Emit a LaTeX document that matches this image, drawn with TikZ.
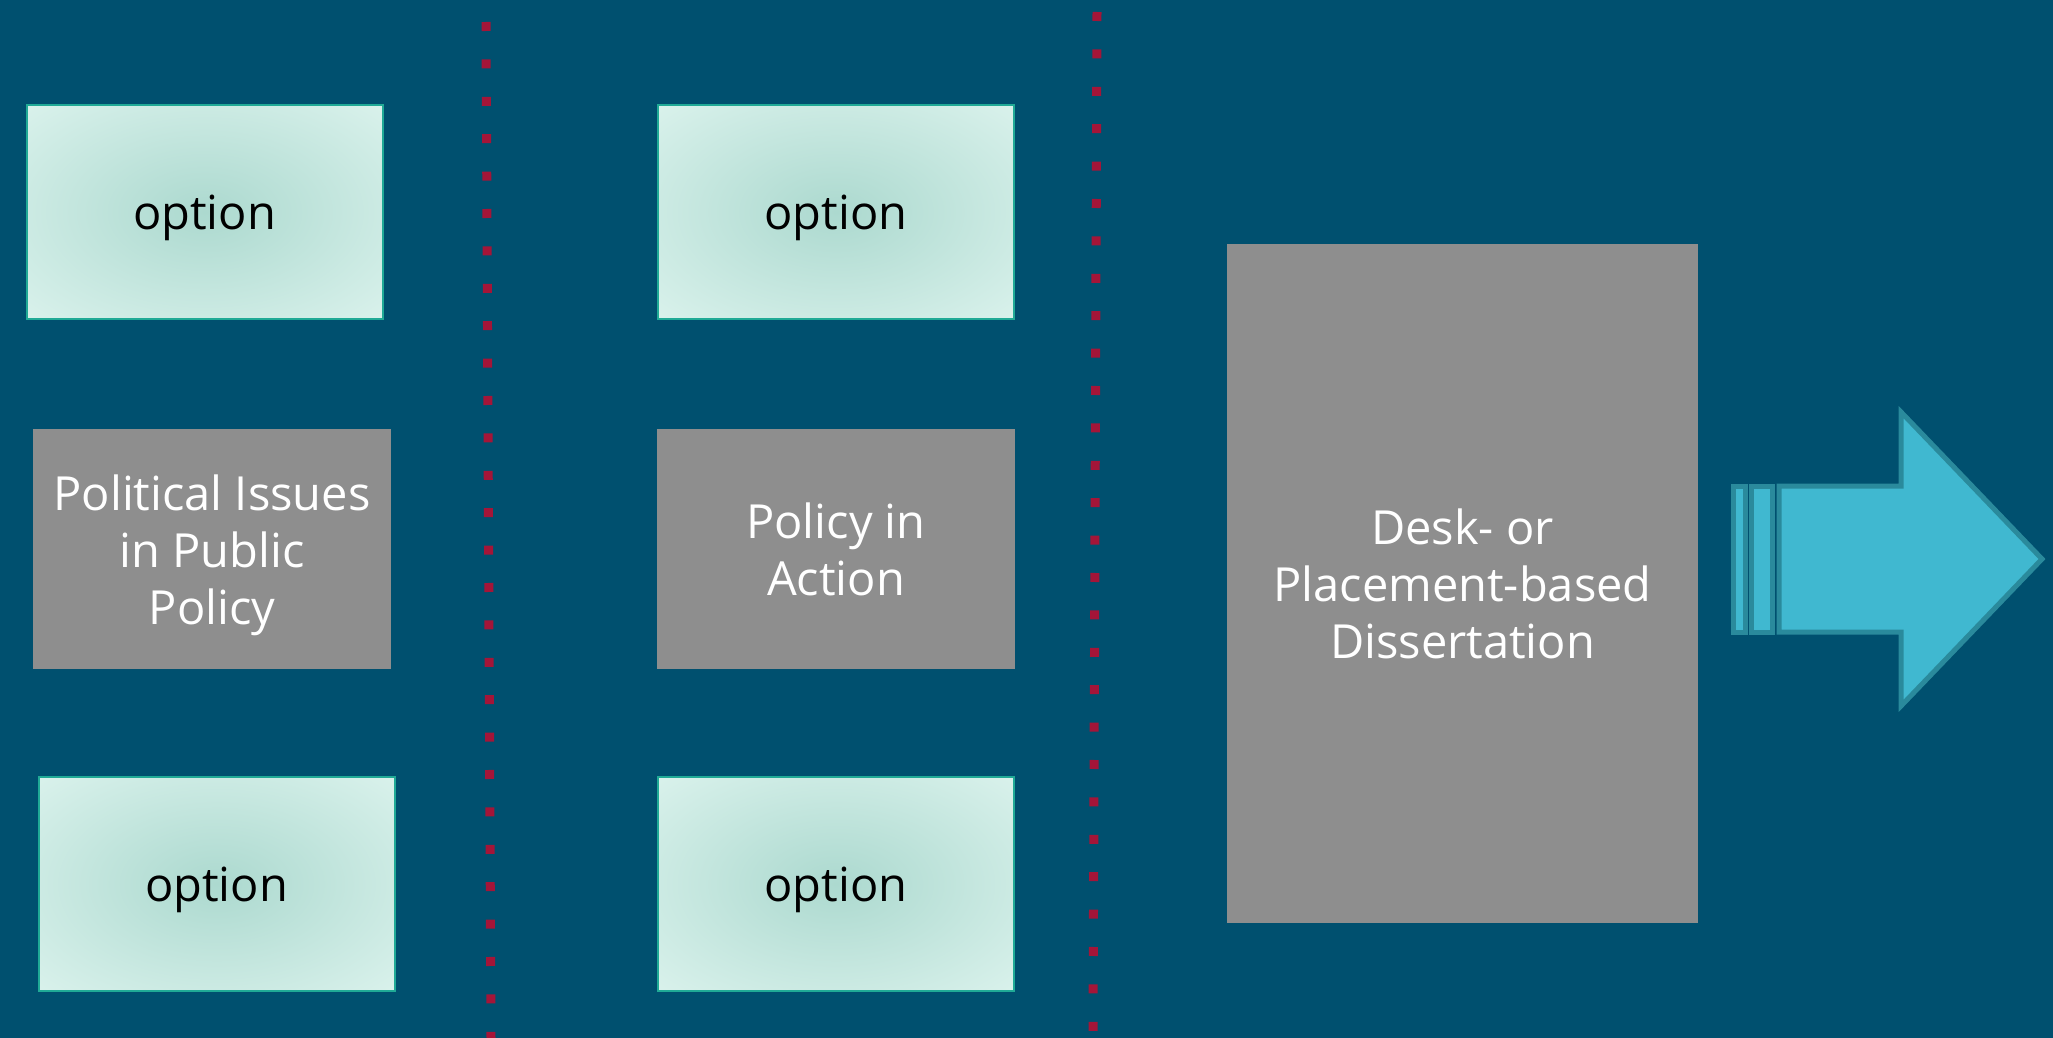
\documentclass[tikz,border=0pt]{standalone}
\usepackage{fontspec}
\setmainfont{Open Sans}
\usetikzlibrary{positioning}

\definecolor{bgblue}{RGB}{0,80,111}
\definecolor{coregray}{RGB}{142,142,142}
\definecolor{optin}{RGB}{172,217,207}
\definecolor{optout}{RGB}{218,242,236}
\definecolor{optedge}{RGB}{32,170,150}
\definecolor{dotred}{RGB}{164,21,56}
\definecolor{arrowfill}{RGB}{64,184,208}
\definecolor{arrowedge}{RGB}{42,138,156}

% soft glow for the option boxes
\pgfdeclareradialshading{optglow}{\pgfpoint{0bp}{0bp}}%
  {color(0bp)=(optin); color(36bp)=(optout); color(50bp)=(optout)}

\tikzset{
  optionbox/.style={draw=optedge, line width=1pt, shading=optglow,
    minimum width=178pt, minimum height=107pt, text=black, text depth=0pt,
    font=\fontsize{23.5}{28.5}\selectfont},
  corebox/.style={fill=coregray, text=white, align=center, inner sep=0pt,
    font=\fontsize{23.5}{28.5}\selectfont},
  divider/.style={draw=dotred, line width=4.5pt, dash pattern=on 4.5pt off 14.2pt},
  arrowpart/.style={fill=arrowfill, draw=arrowedge, line width=2.5pt, line join=miter}
}

\begin{document}
\begin{tikzpicture}[x=0.5pt,y=0.5pt,yscale=-1,xscale=1]
% background
\useasboundingbox (0,0) rectangle (2053,1038);
\fill[bgblue] (0,0) rectangle (2053,1038);

% dotted dividers
\coordinate (divAtop) at (486,22);
\coordinate (divAbot) at (491,1038);
\coordinate (divBtop) at (1097,12);
\coordinate (divBbot) at (1093,1038);
\draw[divider] (divAtop) -- (divAbot);
\draw[divider] (divBtop) -- (divBbot);

% first column
\node[optionbox] (optA) at (204.5,212) {option};
\node[corebox, minimum width=179pt, minimum height=120pt] (issues) at (212,549) {};
\node[corebox, fill=none] (issuestext) at ([yshift=3pt]issues.center) {Political Issues\\in Public\\Policy};
\node[optionbox] (optB) at (216.5,884) {option};

% second column
\node[optionbox] (optC) at (836,212) {option};
\node[corebox, minimum width=179pt, minimum height=120pt] (action) at (836,549) {Policy in\\Action};
\node[optionbox] (optD) at (836,884) {option};

% dissertation
\node[corebox, minimum width=235.5pt, minimum height=339.5pt] (diss) at (1462.5,583.5) {Desk- or\\Placement-based\\Dissertation};

% striped arrow
\draw[arrowpart] (1733,486) rectangle (1745,632);
\draw[arrowpart] (1751,486) rectangle (1772,632);
\draw[arrowpart] (1779,486) -- (1901,486) -- (1901,412) -- (2042,559)
  -- (1901,706) -- (1901,632) -- (1779,632) -- cycle;

\end{tikzpicture}
\end{document}
